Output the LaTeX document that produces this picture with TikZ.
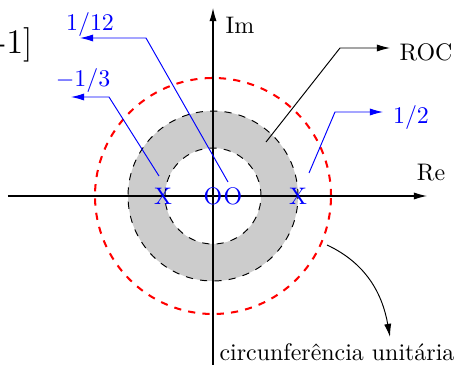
\documentclass[tikz,border=0pt]{standalone}
\usepackage{tikz}
\usetikzlibrary{arrows.meta,calc}
\definecolor{cinzaroc}{gray}{0.8}

\begin{document}
\begin{tikzpicture}[x=0.418pt, y=0.418pt,
      eixo/.style={-{Latex[length=5.5pt,width=3pt]}, line width=0.45pt},
      raiz/.style={text=blue, inner sep=0pt},
      rot/.style={text=blue, inner sep=1pt},
      guia/.style={blue, -{Latex[length=5.5pt,width=3pt]}, line width=0.4pt},
      seta/.style={-{Latex[length=5.5pt,width=3pt]}, line width=0.4pt}]
    \useasboundingbox (-213,-168) rectangle (246,196);

    % ROC (anel entre os polos)
    \fill[cinzaroc, even odd rule] (0,0) circle (85) (0,0) circle (48);
    \draw[dashed, line width=0.4pt] (0,0) circle (85);
    \draw[dashed, line width=0.4pt] (0,0) circle (48);

    % circunferencia unitaria
    \draw[red, dashed, line width=0.85pt] (0,0) circle (118);

    % eixos
    \coordinate (reA) at (-205,0);
    \coordinate (reB) at (214,0);
    \coordinate (imA) at (0,-170);
    \coordinate (imB) at (0,188);
    \draw[eixo] (reA) -- (reB);
    \draw[eixo] (imA) -- (imB);
    \node (re) at (218,23) {Re};
    \node (im) at (27,171) {Im};

    % polos e zeros
    \node[raiz] (p1) at (-50,0) {X};
    \node[raiz] (p2) at (85,0) {X};
    \node[raiz] (z1) at (0,0) {O};
    \node[raiz] (z2) at (20,0) {O};

    % rotulos
    \node[rot] (l12) at (-123,171) {$1/12$};
    \node[rot] (l13) at (-130,115) {$-1/3$};
    \node[rot] (l2) at (198,78) {$1/2$};
    \node (roc) at (213,144) {ROC};
    \node (uc) at (124,-156) {circunfer\^encia unit\'aria};
    \node[font=\Large, anchor=east, inner sep=0pt] (cut) at (-180,151) {-1]};

    % linhas de chamada
    \coordinate (t12) at (-133,158);
    \coordinate (t13) at (-142,99);
    \coordinate (t2) at (170,84);
    \draw[guia] ($(z2)+(-5,14)$) -- (-67,158) -- (t12);
    \draw[guia] ($(p1)+(-4,20)$) -- (-104,99) -- (t13);
    \draw[guia] ($(p2)+(11,23)$) -- (122,84) -- (t2);

    \coordinate (rocA) at (53,54);
    \coordinate (rocB) at (177,148);
    \draw[seta] (rocA) -- (127,148) -- (rocB);

    \coordinate (ucA) at (114,-49);
    \coordinate (ucB) at (177,-141);
    \draw[seta] (ucA) to[out=-25,in=100] (ucB);
  \end{tikzpicture}
\end{document}
